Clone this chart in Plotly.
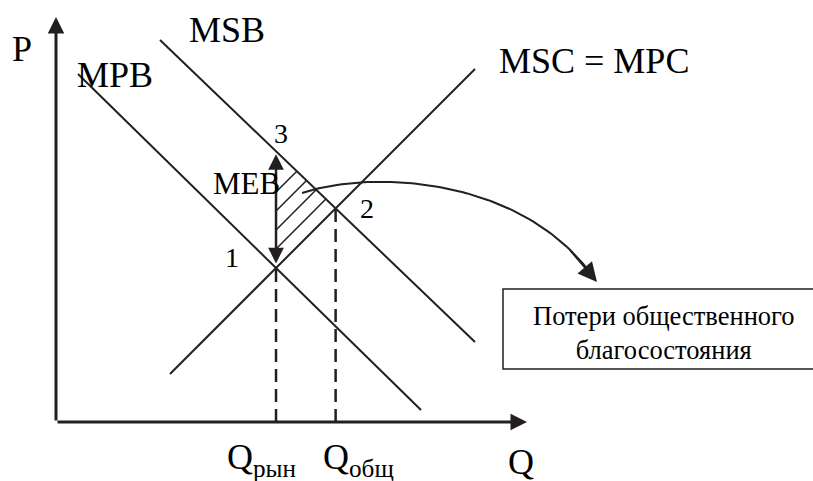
import numpy as np
import plotly.graph_objects as go

# Straight schedules, each given by its two end points (Q, P)
mpb_q = [0.55, 9.125]
mpb_p = [8.70, 0.30]
msb_q = [2.60, 10.475]
msb_p = [9.55, 2.00]
msc_q = [2.85, 10.475]
msc_p = [1.20, 8.825]

# Axis lengths
q_axis_len = 11.775
p_axis_len = 10.125

# Texts
curve_names = ["MPB", "MSB", "MSC = MPC"]
point_names = ["1", "2", "3"]
q_tick_labels = ["Q<sub>рын</sub>", "Q<sub>общ</sub>"]
axis_titles = ["P", "Q"]
meb_label = "MEB"
loss_label = "Потери общественного<br>благосостояния"

INK = "#231f20"
SERIF = "Liberation Serif"


def line_of(qs, ps):
    k = (ps[1] - ps[0]) / (qs[1] - qs[0])
    return k, ps[0] - k * qs[0]


def cross(a, b):
    (k1, b1), (k2, b2) = a, b
    q = (b2 - b1) / (k1 - k2)
    return q, k1 * q + b1


mpb = line_of(mpb_q, mpb_p)
msb = line_of(msb_q, msb_p)
msc = line_of(msc_q, msc_p)

q1, p1 = cross(mpb, msc)          # market equilibrium
q2, p2 = cross(msb, msc)          # social optimum
p3 = msb[0] * q1 + msb[1]         # MSB at market quantity

fig = go.Figure()


def seg(xs, ys, width=2.0, dash="solid"):
    fig.add_trace(go.Scatter(x=xs, y=ys, mode="lines",
                             line=dict(color=INK, width=width, dash=dash),
                             hoverinfo="skip", showlegend=False))


# schedules
for qs, ps in [(mpb_q, mpb_p), (msb_q, msb_p), (msc_q, msc_p)]:
    seg(qs, ps, 2.0)

# hatched deadweight-loss triangle (lines parallel to MSC)
gap = 0.475
for k in range(1, 5):
    c = msc[1] + k * gap
    q_end = (msb[1] - c) / (msc[0] - msb[0])
    seg([q1, q_end], [msc[0] * q1 + c, msc[0] * q_end + c], 1.5)

# dashed drop lines to the quantity axis
for q, p in [(q1, p1), (q2, p2)]:
    seg([q, q], [0, p], 2.5, "13px,7px")


def arrow(x, y, ax, ay, width, size, **kw):
    fig.add_annotation(x=x, y=y, ax=ax, ay=ay, xref="x", yref="y",
                       axref="x", ayref="y", text="", showarrow=True,
                       arrowhead=2, arrowwidth=width, arrowsize=size,
                       arrowcolor=INK, **kw)


# axes
arrow(0, p_axis_len, 0, 0, 3, 1.1)
arrow(q_axis_len, 0, 0, 0, 3, 1.1)

# MEB: vertical gap between MSB and MPB at market quantity
arrow(q1, p3, q1, p1, 2.5, 1.25, arrowside="end+start", startarrowhead=2,
      startarrowsize=1.25, standoff=3, startstandoff=3)

# curved pointer from the triangle to the caption box
ctrl = np.array([[6.15, 5.725], [7.85, 6.3], [11.725, 6.175], [13.525, 3.5]])
t = np.linspace(0, 1, 80)[:, None]
pts = ((1 - t) ** 3 * ctrl[0] + 3 * (1 - t) ** 2 * t * ctrl[1]
       + 3 * (1 - t) * t ** 2 * ctrl[2] + t ** 3 * ctrl[3])
seg(pts[:-3, 0], pts[:-3, 1], 2.0)
arrow(pts[-1, 0], pts[-1, 1], pts[-10, 0], pts[-10, 1], 2, 1.9)

# caption box: open on the right, where it runs off the page
bx0, bx1, by0, by1 = 11.175, 22.0, 1.325, 3.325
seg([bx1, bx0, bx0, bx1], [by1, by1, by0, by0], 1.5)
fig.add_annotation(x=15.2, y=2.2375, xref="x", yref="y", text=loss_label,
                   showarrow=False, align="center",
                   font=dict(size=26.5, family=SERIF, color="black"))


def label(text, x, y, dx, dy, size, xanchor="center", yanchor="middle"):
    fig.add_annotation(x=x, y=y, xref="x", yref="y", text=text,
                       showarrow=False, xshift=dx, yshift=dy,
                       xanchor=xanchor, yanchor=yanchor,
                       font=dict(size=size, family=SERIF, color="black"))


label(axis_titles[0], 0, p_axis_len, -34, -31.5, 36)
label(axis_titles[1], q_axis_len, 0, -6.5, -40, 36)
label(curve_names[0], mpb_q[0], mpb_p[0], 36.5, -0.5, 36)
label(curve_names[1], msb_q[0], msb_p[0], 66.5, 10.5, 36)
label(curve_names[2], msc_q[1], msc_p[1], 22, 8.5, 36, xanchor="left")
label(point_names[0], q1, p1, -44, 10, 28)
label(point_names[1], q2, p2, 31, -0.5, 28)
label(point_names[2], q1, p3, 5, 18, 28)
label(meb_label, q1, p3, -29.5, -32.5, 31)
label(q_tick_labels[0], q1, 0, -51, -37, 36, xanchor="left")
label(q_tick_labels[1], q2, 0, -14.6, -37, 36, xanchor="left")

fig.update_layout(
    width=813, height=481,
    margin=dict(l=0, r=0, t=0, b=0),
    paper_bgcolor="white", plot_bgcolor="white",
    xaxis=dict(range=[-1.4, 18.925], visible=False),
    yaxis=dict(range=[-1.475, 10.55], visible=False),
    font=dict(family=SERIF, color="black"),
    showlegend=False,
)

fig.write_html("out.html")
